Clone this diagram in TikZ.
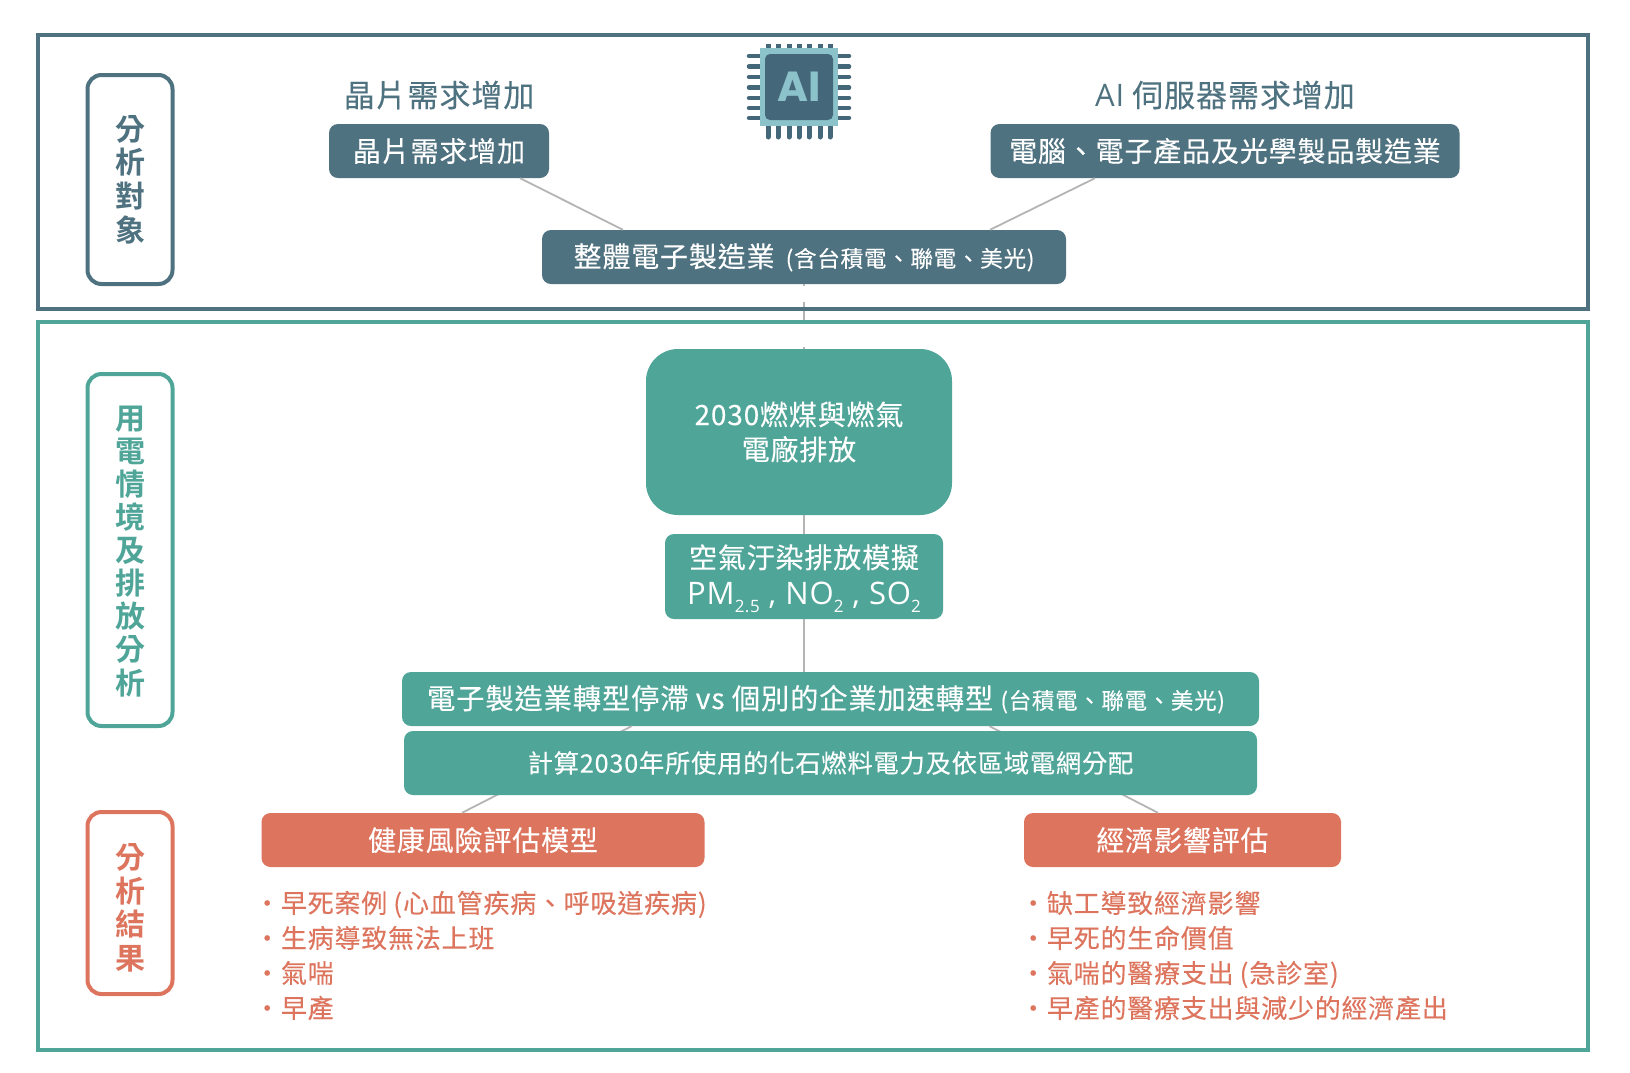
\documentclass[tikz,border=0pt]{standalone}
\usepackage{fontspec}
\setmainfont{Noto Sans CJK TC}[LetterSpace=3, FakeBold=0.2, BoldFont={* Bold}, BoldFeatures={FakeBold=0}]
\newfontfamily\chipfont{Poppins}
\newfontfamily\latinfont{Open Sans}[LetterSpace=3]
\usetikzlibrary{calc}
\definecolor{darkblue}{HTML}{4F7280}
\definecolor{chipblue}{HTML}{44687A}
\definecolor{paleblue}{HTML}{8CC3CB}
\definecolor{teal}{HTML}{4FA598}
\definecolor{coral}{HTML}{DD755E}
\definecolor{linkgray}{HTML}{B4B4B4}
\newcommand{\fs}[2]{\fontsize{#1}{#2}\selectfont}
\newcommand{\subtxt}[1]{\raisebox{-0.5ex}{\fs{17}{17}#1}}
\newcommand{\lowertxt}[2]{\raisebox{-#1}[22pt][6pt]{#2}}
\tikzset{
  framebox/.style={draw=#1, line width=4pt},
  sidebox/.style={draw=#1, text=#1, line width=4pt, rounded corners=14pt, fill=white, minimum width=85pt, inner sep=0pt, align=center, font=\bfseries\fs{30}{33.6}},
  filledbox/.style={fill=#1, text=white, rounded corners=9pt, inner sep=0pt, align=center, font=\fs{28}{34}},
  link/.style={draw=linkgray, line width=1.8pt},
  listtext/.style={text=coral, inner sep=0pt, align=left, anchor=west, font=\fs{26}{35}},
}
\begin{document}
\begin{tikzpicture}[x=1pt, y=-1pt]
  \useasboundingbox (0,0) rectangle (1630,1072);

  % boxes
  \node[filledbox=darkblue, minimum width=220pt, minimum height=54pt] (chipbox) at (439,151) {晶片需求增加};
  \node[filledbox=darkblue, minimum width=469pt, minimum height=54pt] (pcbox) at (1225,151) {電腦、電子產品及光學製品製造業};
  \node[filledbox=darkblue, minimum width=524pt, minimum height=54pt] (elecbox) at (804,257) {\lowertxt{2pt}{整體電子製造業\kern4pt{} {\fs{22.6}{28}(含台積電、聯電、美光)}}};
  \node[filledbox=teal, minimum width=306pt, minimum height=166pt, rounded corners=32pt, font=\fs{28}{35}] (plantbox) at (799,432) {2030燃煤與燃氣\\電廠排放};
  \node[filledbox=teal, minimum width=278pt, minimum height=85pt, font=\fs{28}{35}] (airbox) at (804,576.5) {\lowertxt{1pt}{空氣汙染排放模擬}\\\lowertxt{2pt}{\latinfont\fs{31}{35}PM\subtxt{2.5} , NO\subtxt{2} , SO\subtxt{2}}};
  \node[filledbox=teal, minimum width=857pt, minimum height=54pt, font=\fs{28.3}{34}] (transbox) at (830.5,699) {\lowertxt{2pt}{電子製造業轉型停滯 vs 個別的企業加速轉型 {\fs{22.5}{28}(台積電、聯電、美光)}}\kern9pt};
  \node[filledbox=coral, minimum width=443pt, minimum height=54pt] (healthbox) at (483,840) {健康風險評估模型};
  \node[filledbox=coral, minimum width=317pt, minimum height=54pt] (econbox) at (1182.5,840) {經濟影響評估};

  % links
  \draw[link] ($(chipbox.south)+(81,0)$) -- ($(elecbox.north)+(-181,0)$);
  \draw[link] ($(pcbox.south)+(-130,0)$) -- ($(elecbox.north)+(186,0)$);
  \draw[link] (elecbox.south -| airbox.north) -- (plantbox.north -| airbox.north);
  \draw[link] (plantbox.south -| airbox.north) -- (airbox.north);
  \draw[link] (airbox.south) -- (transbox.north -| airbox.south);
  \draw[link] ($(transbox.south)+(-199,0)$) -- ($(healthbox.north)+(-21,0)$);
  \draw[link] ($(transbox.south)+(159,0)$) -- ($(econbox.north)+(-24.5,0)$);

  \fill[white] (790,286) rectangle (816,302);
  \draw[framebox=darkblue] (38,35) rectangle (1588,309);
  \draw[framebox=teal] (38,322) rectangle (1588,1050);
  \fill[white, rounded corners=4pt] (724,324) rectangle (864,347);
  \draw[link] (803.5,347) -- (803.5,349);

  \node[filledbox=teal, minimum width=853pt, minimum height=64pt, font=\fs{25.3}{32}] (calcbox) at (830.5,763) {計算2030年所使用的化石燃料電力及依區域電網分配};

  % side labels
  \node[sidebox=darkblue, minimum height=209pt] (targetlabel) at (130,179.5) {分\\析\\對\\象};
  \node[sidebox=teal, minimum height=352pt, font=\bfseries\fs{30}{33.1}] (powerlabel) at (130,550) {\lowertxt{3.6pt}{用}\\\lowertxt{3.6pt}{電}\\\lowertxt{3.6pt}{情}\\\lowertxt{3.6pt}{境}\\\lowertxt{3.6pt}{及}\\\lowertxt{3.6pt}{排}\\\lowertxt{3.6pt}{放}\\\lowertxt{3.6pt}{分}\\\lowertxt{3.6pt}{析}};
  \node[sidebox=coral, minimum height=182pt] (resultlabel) at (130,903) {\lowertxt{8pt}{分}\\\lowertxt{8pt}{析}\\\lowertxt{8pt}{結}\\\lowertxt{8pt}{果}};

  % headings
  \node[text=darkblue, font=\fs{31}{36}, inner sep=0pt] (chiphead) at (439,95) {晶片需求增加};
  \node[text=darkblue, font=\fs{31}{36}, inner sep=0pt] (aihead) at (1225,95) {{\latinfont AI} 伺服器需求增加};

  % lists
  \node[listtext] (healthlist) at (254,955.5) {・早死案例\kern6pt(\kern1pt心血管疾病、呼吸道疾病\kern1pt)\\・生病導致無法上班\\・氣喘\\・早產};
  \node[listtext] (econlist) at (1020,955.5) {・缺工導致經濟影響\\・早死的生命價值\\・氣喘的醫療支出\kern6pt(\kern1pt急診室\kern1pt)\\・早產的醫療支出與減少的經濟產出};

  % chip
  \foreach \y in {56,66.5,77,87.5,98,108,118} {
    \draw[chipblue, line width=4.5pt, line cap=round] (749,\y) -- (760,\y);
    \draw[chipblue, line width=4.5pt, line cap=round] (838,\y) -- (849,\y);
  }
  \foreach \x in {768,778,789,799,809,820,830} {
    \draw[chipblue, line width=5pt] (\x,44) -- (\x,48);
    \draw[chipblue, line width=5pt, line cap=round] (\x,126) -- (\x,137);
  }
  \fill[paleblue] (760,48) rectangle (838,126);
  \node[fill=chipblue, text=paleblue, rounded corners=5pt, minimum width=68pt, minimum height=66pt, inner sep=0pt, font=\chipfont\bfseries\fs{42}{42}] (chipcore) at (799,87) {AI};
\end{tikzpicture}
\end{document}
